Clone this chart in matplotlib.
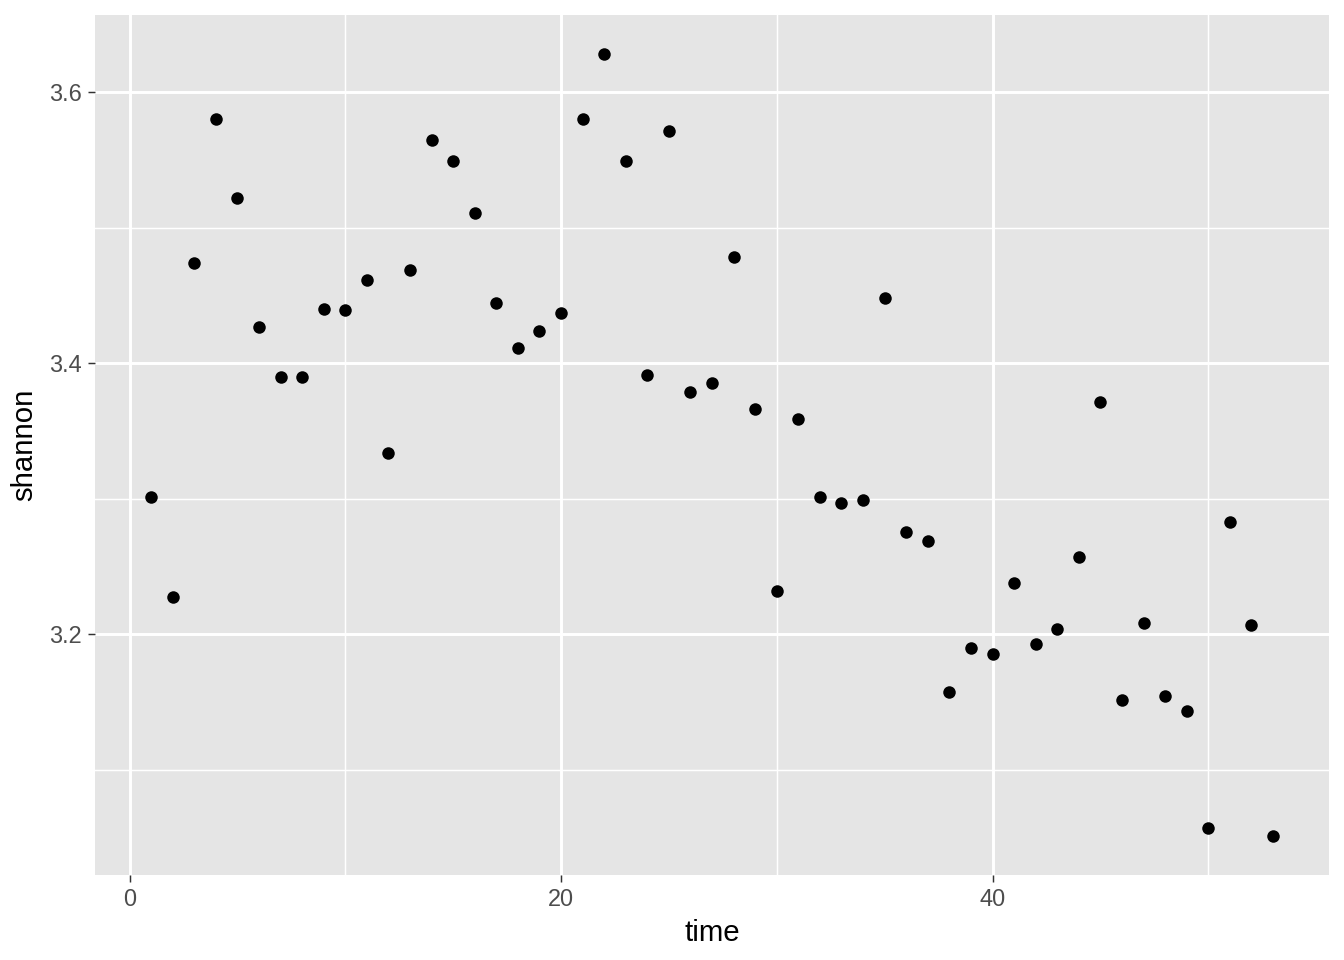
import numpy as np
import matplotlib.pyplot as plt

plt.rcParams['font.family'] = ['Liberation Sans', 'DejaVu Sans']

# data
time = list(range(1, 54))
shannon = [3.301, 3.227, 3.474, 3.580, 3.522, 3.427, 3.390, 3.390, 3.440, 3.439,
           3.461, 3.334, 3.469, 3.565, 3.549, 3.511, 3.444, 3.411, 3.424, 3.437,
           3.580, 3.628, 3.549, 3.391, 3.571, 3.379, 3.385, 3.478, 3.366, 3.232,
           3.359, 3.301, 3.297, 3.299, 3.448, 3.275, 3.269, 3.157, 3.190, 3.185,
           3.238, 3.193, 3.204, 3.257, 3.371, 3.151, 3.208, 3.154, 3.143, 3.057,
           3.283, 3.207, 3.051]

fig = plt.figure(figsize=(7, 5), dpi=192)
ax = fig.add_axes([0.0707, 0.0885, 0.9182, 0.8958])
ax.set_facecolor('#E5E5E5')

ax.scatter(time, shannon, s=22, color='black', linewidths=0, zorder=3)

# ggplot-like expansion of 5%
xr = max(time) - min(time)
yr = max(shannon) - min(shannon)
ax.set_xlim(min(time) - 0.05 * xr, max(time) + 0.05 * xr)
ax.set_ylim(min(shannon) - 0.05 * yr, max(shannon) + 0.05 * yr)

ax.set_xticks([0, 20, 40])
ax.set_xticks([10, 30, 50], minor=True)
ax.set_yticks([3.2, 3.4, 3.6])
ax.set_yticks([3.1, 3.3, 3.5], minor=True)
ax.set_yticklabels(['3.2', '3.4', '3.6'])

ax.grid(True, which='major', color='white', linewidth=1.1)
ax.grid(True, which='minor', color='white', linewidth=0.55)
ax.set_axisbelow(True)

for s in ax.spines.values():
    s.set_visible(False)

ax.tick_params(which='major', length=2.75, width=0.55, color='#333333',
               labelcolor='#4D4D4D', labelsize=8.8, pad=2.2)
ax.tick_params(which='minor', length=0)

ax.set_xlabel('time', fontsize=11, labelpad=3)
ax.set_ylabel('shannon', fontsize=11, labelpad=4)

plt.savefig('out.png', dpi=192)
